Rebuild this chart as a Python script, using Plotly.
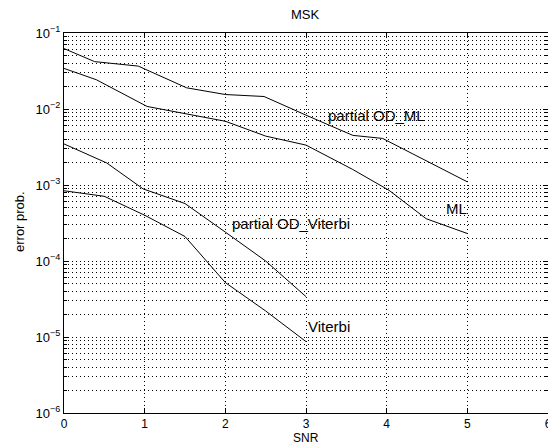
import math
import plotly.graph_objects as go

# Data
snr_od_ml = [0, 0.38, 0.92, 1.52, 2.0, 2.48, 3.0, 3.58, 3.95, 5.0]
p_od_ml = [0.0624, 0.042, 0.0367, 0.019, 0.0155, 0.0146, 0.0083, 0.0045, 0.0041, 0.0011]

snr_ml = [0, 0.4, 1.03, 1.52, 2.0, 2.5, 3.0, 3.58, 4.03, 4.49, 5.0]
p_ml = [0.0342, 0.0243, 0.0108, 0.0087, 0.0069, 0.0044, 0.00335, 0.0016, 0.00085, 0.00036, 0.00023]

snr_od_vit = [0, 0.53, 0.98, 1.5, 2.0, 2.5, 3.0]
p_od_vit = [0.00347, 0.00195, 0.00089, 0.00057, 0.00024, 0.0001, 3.4e-5]

snr_vit = [0, 0.5, 1.0, 1.5, 2.0, 2.5, 3.0]
p_vit = [0.00084, 0.00071, 0.0004, 0.00021, 5.2e-5, 2.2e-5, 8.7e-6]

labels = ["partial OD_ML", "ML", "partial OD_Viterbi", "Viterbi"]
label_x = [3.27, 4.74, 2.08, 3.02]
label_y = [0.0083, 0.00049, 0.00031, 1.38e-5]

x_ticks = [0, 1, 2, 3, 4, 5, 6]
y_ticks = [1e-6, 1e-5, 1e-4, 1e-3, 1e-2, 1e-1]
y_ticktext = ["10<sup>−6</sup>", "10<sup>−5</sup>", "10<sup>−4</sup>",
              "10<sup>−3</sup>", "10<sup>−2</sup>", "10<sup>−1</sup>"]

minor_y = [m * 10 ** e for e in range(-6, -1) for m in range(2, 10)]

# The page body has an 8px default margin, so the figure starts 8px right/down.
W, H = 556, 446
OFF = 8
# desired plot-area box on screen
SL, SR, ST, SB = 64, 548, 33, 413
ML_, MR_, MT_, MB_ = SL - OFF, W - (SR - OFF), ST - OFF, H - (SB - OFF)
PW, PH = W - ML_ - MR_, H - MT_ - MB_


def px_to_paper(sx, sy):
    ix, iy = sx - OFF, sy - OFF
    return (ix - ML_) / PW, 1 - (iy - MT_) / PH


fig = go.Figure()
for xs, ys in [(snr_od_ml, p_od_ml), (snr_ml, p_ml), (snr_od_vit, p_od_vit), (snr_vit, p_vit)]:
    fig.add_trace(go.Scatter(x=xs, y=ys, mode="lines",
                             line=dict(color="black", width=1), showlegend=False))

FS = 15
for t, xv, yv in zip(labels, label_x, label_y):
    fig.add_annotation(x=xv, y=math.log10(yv), text=t, showarrow=False,
                       xanchor="left", yanchor="middle", xref="x", yref="y",
                       xshift=-2, font=dict(size=FS, color="black"))

# axis titles as paper annotations (placed like the reference)
sx, sy = px_to_paper(306, 446)
fig.add_annotation(x=sx, y=sy, xref="paper", yref="paper", text="SNR", showarrow=False,
                   xanchor="center", yanchor="bottom", borderpad=0,
                   font=dict(size=12, color="black"))
ex, ey = px_to_paper(19, 222)
fig.add_annotation(x=ex, y=ey, xref="paper", yref="paper", text="error prob.", showarrow=False,
                   textangle=-90, xanchor="center", yanchor="middle",
                   font=dict(size=13, color="black"))

gridcolor = "#000000"
dash = "1px,3px"

fig.update_layout(
    width=W, height=H,
    margin=dict(l=ML_, r=MR_, t=MT_, b=MB_),
    paper_bgcolor="white", plot_bgcolor="white",
    font=dict(family="Liberation Sans, Arial, sans-serif", size=13, color="black"),
    title=dict(text="MSK", x=(305 - OFF) / W, xanchor="center", y=1 - (14 - OFF) / H,
               yanchor="middle", font=dict(size=13, color="black")),
    xaxis=dict(
        range=[0, 6], tickvals=x_ticks, ticks="inside", ticklen=5, tickcolor="black",
        showline=True, linecolor="black", linewidth=1, mirror="ticks",
        showgrid=True, gridcolor=gridcolor, griddash=dash, gridwidth=1,
        zeroline=False, tickfont=dict(size=12),
    ),
    yaxis=dict(
        type="log", range=[-6, -1], tickvals=y_ticks, ticktext=y_ticktext,
        ticks="inside", ticklen=5, tickcolor="black",
        showline=True, linecolor="black", linewidth=1, mirror="ticks",
        showgrid=True, gridcolor=gridcolor, griddash=dash, gridwidth=1,
        zeroline=False,
        minor=dict(tickvals=minor_y, ticks="inside", ticklen=3, tickcolor="black",
                   showgrid=True, gridcolor=gridcolor, griddash=dash, gridwidth=1),
        tickfont=dict(size=13),
    ),
)

fig.write_html("out.html")
